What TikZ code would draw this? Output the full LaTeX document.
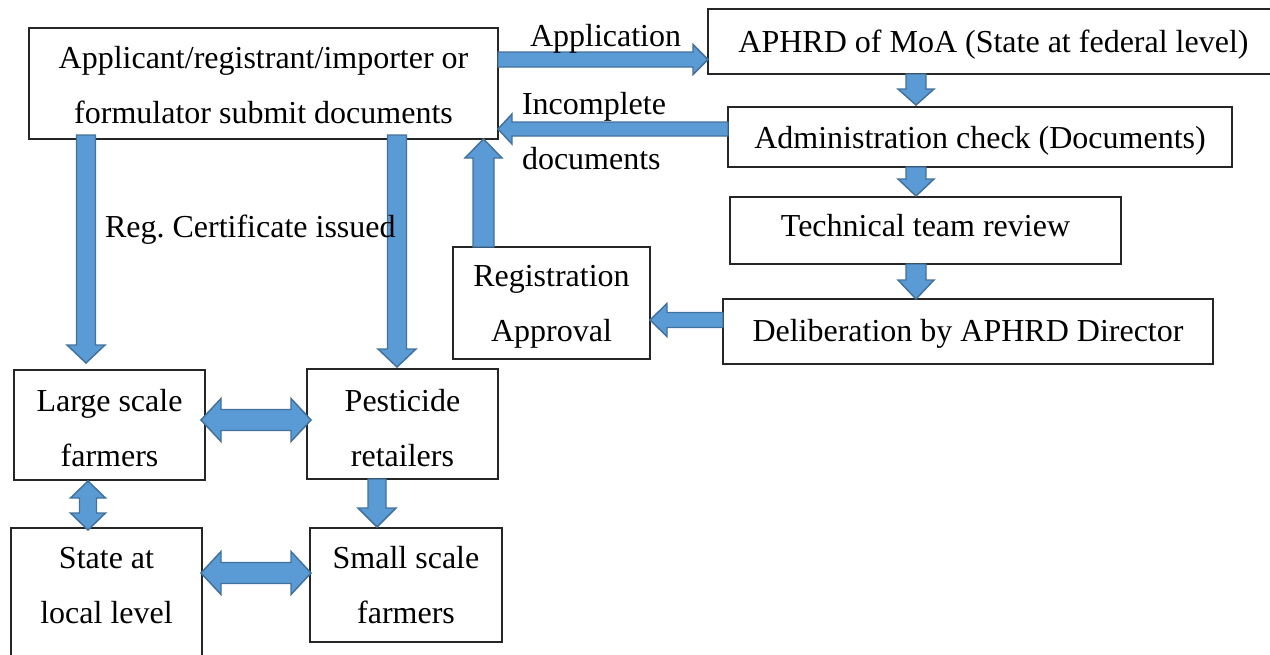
\documentclass[tikz,border=0pt]{standalone}
\usepackage{fontspec}
\setmainfont{Liberation Serif}
\usetikzlibrary{calc}
\definecolor{arrfill}{HTML}{5B9BD5}
\definecolor{arrline}{HTML}{41719C}
\newcommand\boxfont{\fontsize{24}{41.25}\selectfont}
% box text: rows 55px apart, optional vertical shift
\newcommand\bt[2][0pt]{\raisebox{#1}[\height][\depth]{\begin{tabular}{@{}c@{}}#2\end{tabular}}}
\tikzset{
  box/.style={draw=black!85, line width=0.8pt, inner sep=0pt, outer sep=0pt, align=center, font=\boxfont},
  lbl/.style={inner sep=0pt, outer sep=0pt, font=\boxfont, align=left},
  barrow/.style={fill=arrfill, draw=arrline, line width=1.1pt, line join=miter},
}
% single block arrow: from, to, shaft width, head width, head length (px)
\newcommand\blockarrow[5]{%
  \pgfmathsetmacro\bhs{#3*0.375}\pgfmathsetmacro\bhh{#4*0.375}\pgfmathsetmacro\bhl{#5*0.75}%
  \coordinate (bnk) at ($(#2)!\bhl pt!(#1)$);
  \path[barrow] ($(#1)!\bhs pt!90:(#2)$) -- ($(bnk)!\bhs pt!90:(#2)$) -- ($(bnk)!\bhh pt!90:(#2)$) -- (#2)
    -- ($(bnk)!\bhh pt!-90:(#2)$) -- ($(bnk)!\bhs pt!-90:(#2)$) -- ($(#1)!\bhs pt!-90:(#2)$) -- cycle;
}
% double block arrow
\newcommand\dblarrow[5]{%
  \pgfmathsetmacro\bhs{#3*0.375}\pgfmathsetmacro\bhh{#4*0.375}\pgfmathsetmacro\bhl{#5*0.75}%
  \coordinate (bnka) at ($(#1)!\bhl pt!(#2)$);
  \coordinate (bnkb) at ($(#2)!\bhl pt!(#1)$);
  \path[barrow] (#1) -- ($(bnka)!\bhh pt!90:(#2)$) -- ($(bnka)!\bhs pt!90:(#2)$) -- ($(bnkb)!\bhs pt!-90:(#1)$)
    -- ($(bnkb)!\bhh pt!-90:(#1)$) -- (#2) -- ($(bnkb)!\bhh pt!90:(#1)$) -- ($(bnkb)!\bhs pt!90:(#1)$)
    -- ($(bnka)!\bhs pt!-90:(#2)$) -- ($(bnka)!\bhh pt!-90:(#2)$) -- cycle;
}
\begin{document}
\begin{tikzpicture}[x=0.75pt, y=-0.75pt]
\useasboundingbox (0,0) rectangle (1270,654);
% boxes
\node[box, minimum width=351.75pt, minimum height=83.25pt] (app) at (263.5,83.5) {\bt[-1pt]{Applicant/registrant/importer or\\formulator submit documents}};
\node[box, minimum width=428.25pt, minimum height=48.75pt] (aphrd) at (993.5,41.5) {\bt{APHRD of MoA (State at federal level)}};
\node[box, minimum width=378pt, minimum height=45pt] (admin) at (980,137) {\bt{Administration check (Documents)}};
\node[box, minimum width=293.25pt, minimum height=50.25pt] (tech) at (925.5,230.5) {\bt[3.5pt]{Technical team review}};
\node[box, minimum width=367.5pt, minimum height=48.75pt] (delib) at (968,331.5) {\bt[0.5pt]{Deliberation by APHRD Director}};
\node[box, minimum width=147.75pt, minimum height=84pt] (regapp) at (551.5,303) {\bt{Registration\\Approval}};
\node[box, minimum width=143.25pt, minimum height=79.5pt] (large) at (109.5,425) {\bt[-2pt]{Large scale\\farmers}};
\node[box, minimum width=143.25pt, minimum height=81pt] (pest) at (402.5,424) {\bt[-3pt]{Pesticide\\retailers}};
\node[box, minimum width=143.25pt, minimum height=129pt] (state) at (106.5,614) {\bt[21.5pt]{State at\\local level}};
\node[box, minimum width=144pt, minimum height=85.5pt] (small) at (406,585) {\bt{Small scale\\farmers}};
% connector end points
\coordinate (a1s) at ($(app.north east)+(0,31.5)$);
\coordinate (a1e) at (aphrd.west |- a1s);
\coordinate (a2s) at ($(admin.west)+(0,-8)$);
\coordinate (a2e) at (app.east |- a2s);
\coordinate (a3s) at ($(regapp.north)+(-68,0)$);
\coordinate (a3e) at (app.south -| a3s);
\coordinate (a4s) at ($(delib.west)+(0,-11.5)$);
\coordinate (a4e) at (regapp.east |- a4s);
\coordinate (colx) at (916,0);
\coordinate (a5s) at (aphrd.south -| colx);
\coordinate (a5e) at ($(admin.north -| colx)+(0,-2)$);
\coordinate (a6s) at (admin.south -| colx);
\coordinate (a6e) at ($(tech.north -| colx)+(0,-1)$);
\coordinate (a7s) at (tech.south -| colx);
\coordinate (a7e) at (delib.north -| colx);
\coordinate (a8s) at ($(app.south)+(-177.5,-4)$);
\coordinate (a8e) at ($(a8s |- large.north)+(0,-7)$);
\coordinate (a9s) at ($(app.south)+(133.5,-4)$);
\coordinate (a9e) at ($(a9s |- pest.north)+(0,-2)$);
\coordinate (a10s) at ($(large.east)+(-4,-5)$);
\coordinate (a10e) at ($(pest.west |- a10s)+(4,0)$);
\coordinate (a11s) at ($(large.south)+(-21.5,1)$);
\coordinate (a11e) at ($(a11s |- state.north)+(0,2)$);
\coordinate (a12s) at ($(pest.south)+(-25.5,0)$);
\coordinate (a12e) at ($(a12s |- small.north)+(0,-1)$);
\coordinate (a13s) at ($(state.east |- small.west)+(-1,-12)$);
\coordinate (a13e) at ($(small.west)+(1,-12)$);
% connectors
\blockarrow{a1s}{a1e}{15}{30}{15}
\blockarrow{a2s}{a2e}{14}{30}{14}
\blockarrow{a3s}{a3e}{21}{37}{19}
\blockarrow{a4s}{a4e}{15}{33}{17}
\blockarrow{a5s}{a5e}{20}{36}{16}
\blockarrow{a6s}{a6e}{20}{36}{17}
\blockarrow{a7s}{a7e}{20}{36}{19}
\blockarrow{a8s}{a8e}{19}{38}{18}
\blockarrow{a9s}{a9e}{19}{38}{18}
\dblarrow{a10s}{a10e}{21}{43}{20}
\dblarrow{a11s}{a11e}{17}{35}{17}
\blockarrow{a12s}{a12e}{18}{38}{19}
\dblarrow{a13s}{a13e}{21}{43}{20}
% labels
\node[lbl, anchor=base west] (tapp) at (530,46) {Application};
\node[lbl, anchor=west] (tinc) at (522,131) {Incomplete\\documents};
\node[lbl, anchor=base west] (treg) at (105,237) {Reg.\ Certificate issued};
\end{tikzpicture}
\end{document}
